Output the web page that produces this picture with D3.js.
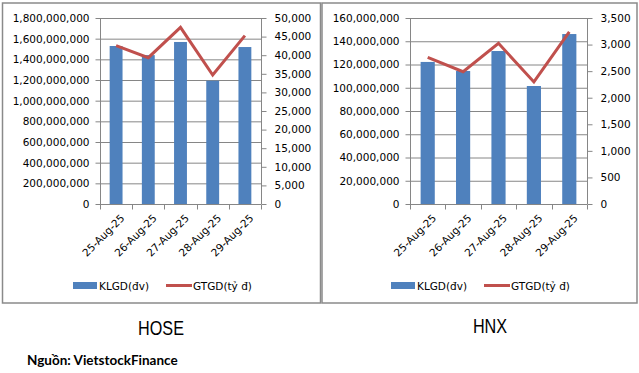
<!DOCTYPE html>
<html>
<head>
<meta charset="utf-8">
<script src="https://cdn.jsdelivr.net/npm/d3@7"></script>
<style>
  html, body { margin: 0; padding: 0; background: #fff; }
  svg { display: block; }
  .tick text { font-family: "DejaVu Sans", Verdana, sans-serif; font-size: 10.5px; fill: #000; }
</style>
</head>
<body>
<svg id="chart" width="639" height="373"></svg>
<script>
const dates = ["25-Aug-25", "26-Aug-25", "27-Aug-25", "28-Aug-25", "29-Aug-25"];
const hoseVolume = [1529000000, 1441000000, 1568000000, 1193000000, 1519000000];
const hoseValue = [42550, 39330, 47490, 34680, 45250];
const hnxVolume = [122200000, 114400000, 131600000, 101500000, 146200000];
const hnxValue = [2760, 2490, 3023, 2296, 3237];
const hoseLeftTicks = [0, 200000000, 400000000, 600000000, 800000000, 1000000000, 1200000000, 1400000000, 1600000000, 1800000000];
const hoseRightTicks = [0, 5000, 10000, 15000, 20000, 25000, 30000, 35000, 40000, 45000, 50000];
const hnxLeftTicks = [0, 20000000, 40000000, 60000000, 80000000, 100000000, 120000000, 140000000, 160000000];
const hnxRightTicks = [0, 500, 1000, 1500, 2000, 2500, 3000, 3500];
const seriesNames = ["KLGD(đv)", "GTGD(tỷ  đ)"];
const panelTitles = ["HOSE", "HNX"];
const sourceText = "Nguồn: VietstockFinance";

const svg = d3.select("#chart");
const BAR = "#4F81BD", LINE = "#C0504D", GRID = "#868686", BORDER = "#8a8a8a";
const fmt = d3.format(",");

function panel(cfg) {
  svg.append("rect")
    .attr("x", cfg.box[0]).attr("y", cfg.box[1])
    .attr("width", cfg.box[2]).attr("height", cfg.box[3])
    .attr("fill", "none").attr("stroke", BORDER).attr("stroke-width", 1.5);

  const x = d3.scaleBand().domain(dates).range([cfg.x0, cfg.x1]).paddingInner(0.6).paddingOuter(0.3);
  const xb = d3.scaleBand().domain(dates).range([cfg.x0, cfg.x1]);
  const yL = d3.scaleLinear().domain([0, d3.max(cfg.lt)]).range([cfg.y1, cfg.y0]);
  const yR = d3.scaleLinear().domain([0, d3.max(cfg.rt)]).range([cfg.y1, cfg.y0]);

  svg.append("g").selectAll("line").data(cfg.lt.slice(1)).join("line")
    .attr("x1", cfg.x0).attr("x2", cfg.x1)
    .attr("y1", d => yL(d) + 0.5).attr("y2", d => yL(d) + 0.5)
    .attr("stroke", GRID).attr("stroke-width", 1);

  svg.append("g").selectAll("rect").data(cfg.vol).join("rect")
    .attr("x", (d, i) => x(dates[i]))
    .attr("width", x.bandwidth())
    .attr("y", d => yL(d))
    .attr("height", d => yL(0) - yL(d))
    .attr("fill", BAR);

  const gl = svg.append("g").attr("transform", `translate(${cfg.x0 + 0.5},0)`)
    .call(d3.axisLeft(yL).tickValues(cfg.lt).tickFormat(fmt).tickSize(5).tickPadding(6));
  gl.selectAll("path, line").attr("stroke", GRID);
  gl.select(".domain").attr("d", `M0,${cfg.y0}V${cfg.y1}`);

  const gr = svg.append("g").attr("transform", `translate(${cfg.x1 + 0.5},0)`)
    .call(d3.axisRight(yR).tickValues(cfg.rt).tickFormat(fmt).tickSize(5).tickPadding(8));
  gr.selectAll("path, line").attr("stroke", GRID);
  gr.select(".domain").attr("d", `M0,${cfg.y0}V${cfg.y1}`);

  const gb = svg.append("g").attr("transform", `translate(0,${cfg.y1 + 0.5})`);
  gb.append("line").attr("x1", cfg.x0).attr("x2", cfg.x1).attr("stroke", GRID);
  const bounds = dates.map(d => xb(d)).concat([cfg.x1]);
  gb.selectAll("line.t").data(bounds).join("line").attr("class", "t")
    .attr("x1", d => Math.round(d) + 0.5).attr("x2", d => Math.round(d) + 0.5)
    .attr("y1", 0).attr("y2", 5).attr("stroke", GRID);
  gb.selectAll("text").data(dates).join("text")
    .attr("transform", d => `translate(${xb(d) + xb.bandwidth() / 2 + 4},${9}) rotate(-45)`)
    .attr("text-anchor", "end").attr("dy", "0.7em")
    .attr("font-family", "DejaVu Sans, Verdana, sans-serif").attr("font-size", "10.5px")
    .text(d => d);

  const line = d3.line().x((d, i) => xb(dates[i]) + xb.bandwidth() / 2).y(d => yR(d));
  svg.append("path").datum(cfg.val).attr("d", line)
    .attr("fill", "none").attr("stroke", LINE).attr("stroke-width", 3).attr("stroke-linejoin", "miter");

  const lg = svg.append("g").attr("font-family", "DejaVu Sans, Verdana, sans-serif").attr("font-size", "10.5px");
  lg.append("rect").attr("x", cfg.leg[0]).attr("y", 282).attr("width", 24).attr("height", 7).attr("fill", BAR);
  lg.append("text").attr("x", cfg.leg[0] + 26).attr("y", 289.5).text(seriesNames[0]);
  lg.append("line").attr("x1", cfg.leg[1]).attr("x2", cfg.leg[1] + 26).attr("y1", 285.5).attr("y2", 285.5)
    .attr("stroke", LINE).attr("stroke-width", 3);
  lg.append("text").attr("x", cfg.leg[1] + 27).attr("y", 289.5).text(seriesNames[1]);

  svg.append("text")
    .attr("transform", `translate(${cfg.title[0]},${cfg.title[1]}) scale(0.81,1)`)
    .attr("text-anchor", "middle")
    .attr("font-family", "'Liberation Sans', Arial, sans-serif")
    .attr("font-size", "20px").attr("fill", "#000")
    .text(cfg.name);
}

panel({ box: [2.5, 3, 318, 300], x0: 100, x1: 261, y0: 18, y1: 204,
        lt: hoseLeftTicks, rt: hoseRightTicks, vol: hoseVolume, val: hoseValue,
        leg: [73, 166], title: [161, 335], name: panelTitles[0] });
panel({ box: [322, 3, 315, 300], x0: 410, x1: 587, y0: 18, y1: 204,
        lt: hnxLeftTicks, rt: hnxRightTicks, vol: hnxVolume, val: hnxValue,
        leg: [391, 484], title: [490, 332.5], name: panelTitles[1] });

svg.append("text").attr("x", 27).attr("y", 365)
  .attr("font-family", "Lato, 'Open Sans', sans-serif").attr("font-weight", "bold")
  .attr("font-size", "13.5px").attr("fill", "#000")
  .text(sourceText);
</script>
</body>
</html>
